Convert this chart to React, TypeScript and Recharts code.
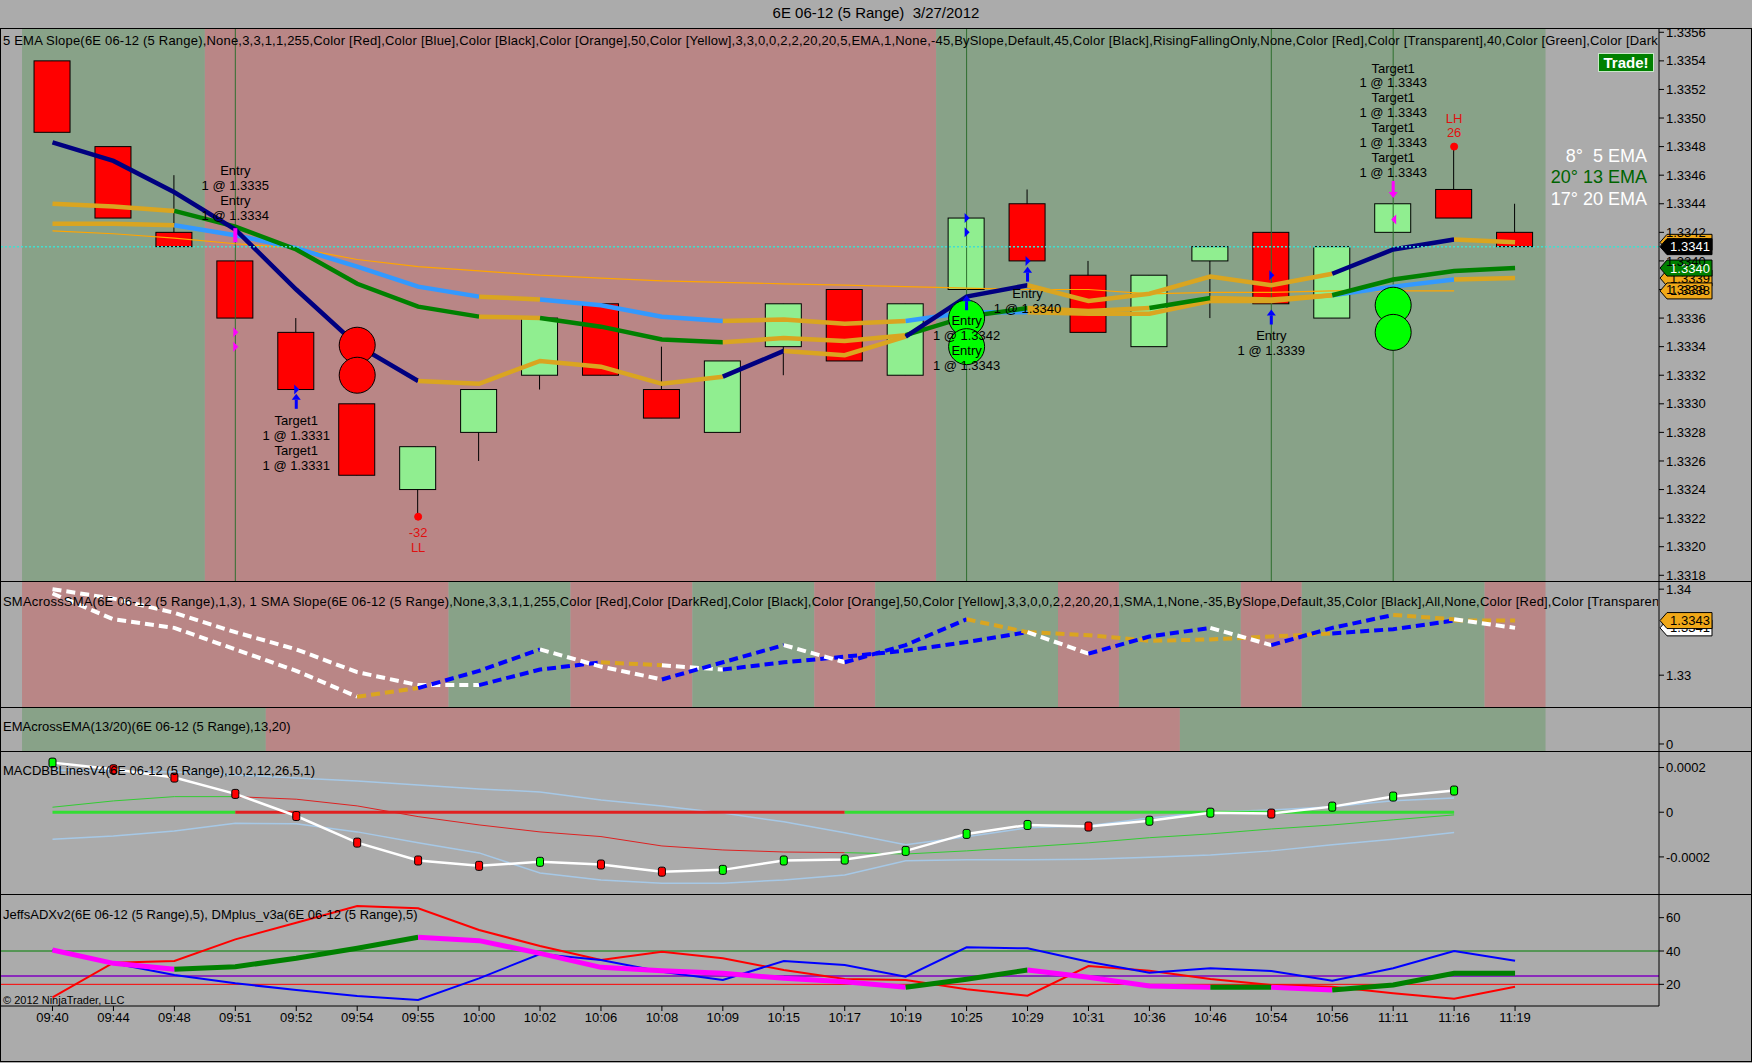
import React from "react";
import {
  Bar,
  ComposedChart,
  Line,
  ReferenceArea,
  ReferenceDot,
  ReferenceLine,
  XAxis,
  YAxis,
} from "recharts";

// ---- data ----
const times = [
  "09:40", "09:44", "09:48", "09:51", "09:52", "09:54", "09:55", "10:00", "10:02",
  "10:06", "10:08", "10:09", "10:15", "10:17", "10:19", "10:25", "10:29", "10:31",
  "10:36", "10:46", "10:54", "10:56", "11:11", "11:16", "11:19",
];

const opens = [1.3354, 1.3348, 1.3342, 1.334, 1.3335, 1.333, 1.3324, 1.3328, 1.3332, 1.3337, 1.3331, 1.3328, 1.3334, 1.3338, 1.3332, 1.3338, 1.3344, 1.3339, 1.3334, 1.334, 1.3342, 1.3336, 1.3342, 1.3345, 1.3342];
const highs = [1.3354, 1.3348, 1.3346, 1.334, 1.3336, 1.333, 1.3327, 1.3331, 1.3336, 1.3337, 1.3334, 1.3333, 1.3337, 1.3338, 1.3337, 1.3343, 1.3345, 1.334, 1.3339, 1.3341, 1.3342, 1.3341, 1.3344, 1.3348, 1.3344];
const lows = [1.3349, 1.3343, 1.3341, 1.3336, 1.3331, 1.3325, 1.3322, 1.3326, 1.3331, 1.3332, 1.3329, 1.3328, 1.3332, 1.3333, 1.3332, 1.3338, 1.334, 1.3335, 1.3334, 1.3336, 1.3337, 1.3336, 1.3342, 1.3343, 1.3341];
const closes = [1.3349, 1.3343, 1.3341, 1.3336, 1.3331, 1.3325, 1.3327, 1.3331, 1.3336, 1.3332, 1.3329, 1.3333, 1.3337, 1.3333, 1.3337, 1.3343, 1.334, 1.3335, 1.3339, 1.3341, 1.3337, 1.3341, 1.3344, 1.3343, 1.3341];

const ema5 = [1.33483, 1.3347, 1.33448, 1.33422, 1.3338, 1.33341, 1.33316, 1.33314, 1.3333, 1.33326, 1.33314, 1.33319, 1.33337, 1.33334, 1.33347, 1.33375, 1.33383, 1.33372, 1.33377, 1.33389, 1.33383, 1.33391, 1.33408, 1.33415, 1.33413];
const ema13 = [1.3344, 1.33438, 1.33435, 1.33424, 1.33408, 1.33384, 1.33368, 1.33361, 1.3336, 1.33354, 1.33345, 1.33343, 1.33346, 1.33344, 1.33348, 1.33361, 1.33367, 1.33365, 1.33367, 1.33374, 1.33373, 1.33376, 1.33387, 1.33393, 1.33395];
const ema20 = [1.33426, 1.33426, 1.33425, 1.33418, 1.33409, 1.33396, 1.33382, 1.33375, 1.33373, 1.33369, 1.33361, 1.33358, 1.33359, 1.33356, 1.33358, 1.33364, 1.33364, 1.33363, 1.33363, 1.33372, 1.33372, 1.33376, 1.33382, 1.33387, 1.33388];
const sma50 = [1.33421, 1.33419, 1.33416, 1.33412, 1.33409, 1.33401, 1.33396, 1.33393, 1.3339, 1.33388, 1.33386, 1.33385, 1.33384, 1.33383, 1.33382, 1.33381, 1.3338, 1.3338, 1.33377, 1.33378, 1.33378, 1.33379, 1.33379, 1.33379, null];

// segment colours, one letter per bar-to-bar segment
const ema5Colors = "NNNNNNYYYYYNYYNNYYYYYNNY";
const ema13Colors = "YYKKKKKYKKKYYYKKYYKYYKKK";
const ema20Colors = "YYLLLLLYLLLYYYLLYYYYYLLY";

const sma1 = closes;
const sma3 = [1.335, 1.33478, 1.33445, 1.334, 1.3336, 1.33307, 1.33277, 1.33277, 1.33313, 1.3333, 1.33323, 1.33313, 1.3333, 1.33343, 1.33357, 1.33377, 1.334, 1.33393, 1.3338, 1.33383, 1.3339, 1.33397, 1.33407, 1.33427, 1.33427];
const sma1Colors = "WWWWWYBBWWBBWBBYWBBWBBYW";
const sma3Colors = "WWWWWWWBBYWBBBBBYYYYYBBY";

const macd = [0.000222, 0.000192, 0.000155, 0.000082, -0.000017, -0.000136, -0.000216, -0.00024, -0.000222, -0.000234, -0.000266, -0.000258, -0.000216, -0.000212, -0.000173, -0.000097, -0.000057, -0.000064, -0.000038, -0.000002, -0.000006, 0.000025, 0.00007, 0.000097, null];
const macdDots = "GRRRRRRRGRRGGGGGGRGGRGGG";
const bbUpper = [0.000189, 0.000185, 0.00018, 0.000167, 0.000153, 0.00014, 0.000122, 0.000104, 0.000091, 0.000055, 0.000028, -0.000003, -0.000043, -0.000092, -0.000146, -0.00011, -0.00007, -0.000061, -0.000026, 0.000001, 0.00001, 0.000024, 0.000051, 0.000064, null];
const bbLower = [-0.000121, -0.000106, -0.000084, -0.000049, -0.000052, -0.000088, -0.000137, -0.000182, -0.000272, -0.000303, -0.000318, -0.000318, -0.000303, -0.000281, -0.000217, -0.000213, -0.000213, -0.00021, -0.000201, -0.000191, -0.000173, -0.000146, -0.000121, -0.000091, null];
const signal = [0.0000224, 0.0000506, 0.0000698, 0.0000698, 0.0000582, 0.0000282, -0.0000197, -0.0000568, -0.0000881, -0.000109, -0.000151, -0.000169, -0.000178, -0.000181, -0.000187, -0.000173, -0.000155, -0.000137, -0.000114, -0.000097, -0.000075, -0.000057, -0.000034, -0.000012, null];
const signalColors = "GGGRRRRRRRRRRGGGGGGGGGG";
const zeroRuns = [
  { from: 0, to: 3, color: "G" },
  { from: 3, to: 13, color: "R" },
  { from: 13, to: 23, color: "G" },
];

const diMinus = [12.2, 33, 34, 47, 57, 67, 65.6, 52.6, 43, 34.6, 39.6, 35.6, 28.6, 23.2, 22.6, 17, 13.2, 31, 28.2, 23.2, 19.6, 18.6, 14.6, 11.4, 18.6];
const diPlus = [40.6, 32.6, 25.6, 20.6, 16.6, 13, 10.6, 23.6, 38.2, 34.6, 27.6, 22.6, 34, 31.6, 24.6, 42.2, 41.6, 33.6, 27, 29.6, 28, 22.2, 29.6, 40, 34.2];
const adx = [40.6, 32.6, 29, 30.6, 35.6, 41.6, 48.2, 46.2, 38.6, 30.2, 28.2, 26.6, 23.6, 21.6, 18.2, 23, 28.6, 24.2, 19, 18.2, 18.2, 16.6, 19.6, 26.6, 26.6];
const adxColors = "MMKKKKMMMMMMMMKKMMMKMKKK";

const mainBands = [
  { from: -0.5, to: 2.5, up: true },
  { from: 2.5, to: 14.5, up: false },
  { from: 14.5, to: 24.5, up: true },
];
const smaBands = [
  { from: -0.5, to: 6.5, up: false },
  { from: 6.5, to: 8.5, up: true },
  { from: 8.5, to: 10.5, up: false },
  { from: 10.5, to: 12.5, up: true },
  { from: 12.5, to: 13.5, up: false },
  { from: 13.5, to: 16.5, up: true },
  { from: 16.5, to: 17.5, up: false },
  { from: 17.5, to: 19.5, up: true },
  { from: 19.5, to: 20.5, up: false },
  { from: 20.5, to: 23.5, up: true },
  { from: 23.5, to: 24.5, up: false },
];
const emaBands = [
  { from: -0.5, to: 3.5, up: true },
  { from: 3.5, to: 18.5, up: false },
  { from: 18.5, to: 24.5, up: true },
];

const tradeBars = [3, 15, 20, 22];
const circles = [
  { i: 5, price: 1.33341, color: "#ff0000" },
  { i: 5, price: 1.3332, color: "#ff0000" },
  { i: 15, price: 1.3336, color: "#00ff00" },
  { i: 15, price: 1.3334, color: "#00ff00" },
  { i: 22, price: 1.33369, color: "#00ff00" },
  { i: 22, price: 1.3335, color: "#00ff00" },
];
const swingDots = [
  { i: 6, price: 1.33221 },
  { i: 23, price: 1.3348 },
];
const notes = [
  { i: 3, price: 1.33463, color: "#000", lines: ["Entry", "1 @ 1.3335", "Entry", "1 @ 1.3334"] },
  { i: 4, price: 1.33288, color: "#000", lines: ["Target1", "1 @ 1.3331", "Target1", "1 @ 1.3331"] },
  { i: 6, price: 1.3321, color: "#e01010", lines: ["-32", "LL"] },
  { i: 15, price: 1.33358, color: "#000", lines: ["Entry", "1 @ 1.3342", "Entry", "1 @ 1.3343"] },
  { i: 16, price: 1.33377, color: "#000", lines: ["Entry", "1 @ 1.3340"] },
  { i: 20, price: 1.33348, color: "#000", lines: ["Entry", "1 @ 1.3339"] },
  {
    i: 22,
    price: 1.33535,
    color: "#000",
    lines: ["Target1", "1 @ 1.3343", "Target1", "1 @ 1.3343", "Target1", "1 @ 1.3343", "Target1", "1 @ 1.3343"],
  },
  { i: 23, price: 1.335, color: "#e01010", lines: ["LH", "26"] },
];
const upArrows = [
  { i: 4, price: 1.33307 },
  { i: 15, price: 1.33376 },
  { i: 16, price: 1.33396 },
  { i: 20, price: 1.33366 },
];
const downArrows = [{ i: 22, price: 1.33444 }];
const fills = [
  { i: 3, price: 1.33418, kind: "bar", color: "#ff00ff" },
  { i: 3, price: 1.3335, kind: "right", color: "#ff00ff" },
  { i: 3, price: 1.3334, kind: "right", color: "#ff00ff" },
  { i: 4, price: 1.3331, kind: "right", color: "#0000ff" },
  { i: 15, price: 1.3343, kind: "right", color: "#0000ff" },
  { i: 15, price: 1.3342, kind: "right", color: "#0000ff" },
  { i: 16, price: 1.334, kind: "right", color: "#0000ff" },
  { i: 20, price: 1.3339, kind: "right", color: "#0000ff" },
  { i: 22, price: 1.33429, kind: "left", color: "#ff00ff" },
];
const mainTags = [
  { price: 1.33413, text: "1.3341", fill: "#f0a818", ink: "#000" },
  { price: 1.33388, text: "1.3339", fill: "#f0a818", ink: "#000" },
  { price: 1.33379, text: "1.3338", fill: "#f0a818", ink: "#000" },
  { price: 1.33395, text: "1.3340", fill: "#008000", ink: "#fff" },
  { price: 1.3341, text: "1.3341", fill: "#000", ink: "#fff" },
];
const smaTags = [
  { price: 1.3341, text: "1.3341", fill: "#fff", ink: "#000" },
  { price: 1.33427, text: "1.3343", fill: "#f0a818", ink: "#000" },
];

const priceTicks = [1.3318, 1.332, 1.3322, 1.3324, 1.3326, 1.3328, 1.333, 1.3332, 1.3334, 1.3336, 1.3338, 1.334, 1.3342, 1.3344, 1.3346, 1.3348, 1.335, 1.3352, 1.3354, 1.3356];
const smaTicks = [1.333, 1.335];
const smaTickText = ["1.33", "1.34"];
const macdTicks = [-0.0002, 0, 0.0002];
const adxTicks = [20, 40, 60];

// ---- layout ----
const W = 1752;
const PLOT_W = 1659;
const AXIS_W = W - PLOT_W;
const xDomain = [-0.8615, 26.362];
const FONT = "'Liberation Sans', Arial, sans-serif";
const UP_BG = "#88a288";
const DOWN_BG = "#b98686";

const palette: Record<string, string> = {
  N: "#000080",
  Y: "#daa520",
  K: "#008000",
  L: "#3399ff",
  W: "#ffffff",
  B: "#0000ff",
  M: "#ff00ff",
  G: "#33cc33",
  R: "#dd2222",
};

type Row = Record<string, any>;
const rows: Row[] = times.map((t, i) => ({
  i,
  t,
  open: opens[i],
  high: highs[i],
  low: lows[i],
  close: closes[i],
  sma50: sma50[i],
  macd: macd[i],
  bbUpper: bbUpper[i],
  bbLower: bbLower[i],
  diMinus: diMinus[i],
  diPlus: diPlus[i],
}));

function runs(colors: string) {
  const out: { color: string; from: number; to: number }[] = [];
  for (let s = 0; s < colors.length; s++) {
    const last = out[out.length - 1];
    if (last && last.color === colors[s]) last.to = s + 1;
    else out.push({ color: colors[s], from: s, to: s + 1 });
  }
  return out;
}

function segmented(name: string, values: (number | null)[], colors: string) {
  return runs(colors).map((r, k) => {
    const key = `${name}_${k}`;
    rows.forEach((row, i) => {
      row[key] = i >= r.from && i <= r.to ? values[i] : null;
    });
    return { key, color: palette[r.color] };
  });
}

const ema5Segs = segmented("ema5", ema5, ema5Colors);
const ema13Segs = segmented("ema13", ema13, ema13Colors);
const ema20Segs = segmented("ema20", ema20, ema20Colors);
const sma1Segs = segmented("sma1", sma1, sma1Colors);
const sma3Segs = segmented("sma3", sma3, sma3Colors);
const signalSegs = segmented("signal", signal, signalColors);
const adxSegs = segmented("adx", adx, adxColors);

// ---- shapes ----
function Candle(props: any) {
  const { x, y, width, height, payload } = props;
  const top = Math.min(y, y + height);
  const h = Math.abs(height);
  const { open, high, low, close } = payload;
  const toY = (p: number) => top + ((high - p) / (high - low)) * h;
  const cx = x + width / 2;
  const bTop = toY(Math.max(open, close));
  const bBot = toY(Math.min(open, close));
  return (
    <g>
      <line x1={cx} x2={cx} y1={top} y2={top + h} stroke="#000" strokeWidth={1} />
      <rect
        x={x}
        y={bTop}
        width={width}
        height={Math.max(bBot - bTop, 1)}
        fill={close > open ? "#90ee90" : "#ff0000"}
        stroke="#000"
        strokeWidth={1}
      />
    </g>
  );
}

const noteShape = (lines: string[], color: string) => (p: any) => (
  <text x={p.cx} y={p.cy} textAnchor="middle" fontSize={13} fill={color} fontFamily={FONT}>
    {lines.map((s, k) => (
      <tspan key={k} x={p.cx} dy={k === 0 ? 4.5 : 14.9}>
        {s}
      </tspan>
    ))}
  </text>
);

const upArrow = (p: any) => (
  <g fill="#0000ff">
    <polygon points={`${p.cx},${p.cy} ${p.cx - 4.5},${p.cy + 6} ${p.cx + 4.5},${p.cy + 6}`} />
    <rect x={p.cx - 1.5} y={p.cy + 6} width={3} height={9} />
  </g>
);

const downArrow = (p: any) => (
  <g fill="#ff00ff">
    <polygon points={`${p.cx},${p.cy} ${p.cx - 4.5},${p.cy - 6} ${p.cx + 4.5},${p.cy - 6}`} />
    <rect x={p.cx - 1.5} y={p.cy - 17} width={3} height={11} />
  </g>
);

const fillShape = (kind: string, color: string) => (p: any) => {
  if (kind === "bar") return <rect x={p.cx - 2} y={p.cy - 7} width={4} height={14} fill={color} />;
  if (kind === "left")
    return <polygon points={`${p.cx - 2},${p.cy} ${p.cx + 3},${p.cy - 5} ${p.cx + 3},${p.cy + 5}`} fill={color} />;
  return <polygon points={`${p.cx + 3},${p.cy} ${p.cx - 2},${p.cy - 5} ${p.cx - 2},${p.cy + 5}`} fill={color} />;
};

const tagShape = (text: string, fill: string, ink: string) => (p: any) => (
  <g>
    <polygon
      points={`${p.cx + 1},${p.cy} ${p.cx + 8},${p.cy - 8} ${p.cx + 53},${p.cy - 8} ${p.cx + 53},${p.cy + 8} ${p.cx + 8},${p.cy + 8}`}
      fill={fill}
      stroke="#000"
      strokeWidth={1}
    />
    <text x={p.cx + 31} y={p.cy + 4.5} textAnchor="middle" fontSize={13} fill={ink} fontFamily={FONT}>
      {text}
    </text>
  </g>
);

const circleShape = (color: string) => (p: any) => (
  <circle cx={p.cx} cy={p.cy} r={18} fill={color} stroke="#000" strokeWidth={1} />
);

const macdDot = (p: any) => {
  if (p.cy == null || p.value == null) return <g key={p.index} />;
  return (
    <rect
      key={p.index}
      x={p.cx - 3.5}
      y={p.cy - 4.5}
      width={7}
      height={9}
      rx={2}
      fill={macdDots[p.index] === "G" ? "#00ff00" : "#ff0000"}
      stroke="#000"
      strokeWidth={1}
    />
  );
};

// ---- shared axis bits ----
const tickStyle = { fill: "#000", fontSize: 13, fontFamily: FONT };

function rightAxis(domain: number[], ticks: number[], fmt: (v: number, i: number) => string) {
  return (
    <YAxis
      orientation="right"
      width={AXIS_W}
      domain={domain}
      ticks={ticks}
      allowDataOverflow
      tickFormatter={fmt}
      tick={tickStyle}
      tickSize={5}
      axisLine={{ stroke: "#000" }}
      tickLine={{ stroke: "#000" }}
      interval={0}
    />
  );
}

const hiddenX = <XAxis dataKey="i" type="number" domain={xDomain} allowDataOverflow hide />;

function bands(list: { from: number; to: number; up: boolean }[]) {
  return list.map((b, k) => (
    <ReferenceArea
      key={`band${k}`}
      x1={b.from}
      x2={b.to}
      fill={b.up ? UP_BG : DOWN_BG}
      fillOpacity={1}
      stroke="none"
      ifOverflow="hidden"
    />
  ));
}

const margin = { top: 0, right: 0, bottom: 0, left: 0 };

function PanelLabel({ top, spacing = 0, children }: { top: number; spacing?: number; children: React.ReactNode }) {
  return (
    <div
      style={{
        position: "absolute",
        left: 3,
        top: top - 8,
        width: PLOT_W - 4,
        height: 16,
        lineHeight: "16px",
        fontSize: 13,
        letterSpacing: spacing,
        whiteSpace: "nowrap",
        overflow: "hidden",
        color: "#000",
      }}
    >
      {children}
    </div>
  );
}

function HLine({ top }: { top: number }) {
  return <div style={{ position: "absolute", left: 0, top, width: W, height: 1, background: "#000" }} />;
}

export default function App() {
  return (
    <div
      style={{
        position: "relative",
        width: W,
        height: 1063,
        background: "#ababab",
        overflow: "hidden",
        fontFamily: FONT,
      }}
    >
      <style>{"body{margin:0}"}</style>
      <div style={{ position: "absolute", top: 4, left: 0, width: W, textAlign: "center", fontSize: 15 }}>
        6E 06-12 (5 Range)&nbsp;&nbsp;3/27/2012
      </div>

      {/* price panel */}
      <div style={{ position: "absolute", top: 28, left: 0 }}>
        <ComposedChart width={W} height={553} data={rows} margin={margin}>
          {hiddenX}
          {rightAxis([1.33176, 1.33563], priceTicks, (v) => v.toFixed(4))}
          {bands(mainBands)}
          <Bar dataKey={(r: Row) => [r.low, r.high]} barSize={36} shape={Candle} isAnimationActive={false} />
          {tradeBars.map((i) => (
            <ReferenceLine key={`tl${i}`} x={i} stroke="#2f6f2f" strokeWidth={1} />
          ))}
          <Line dataKey="sma50" stroke="#ffa500" strokeWidth={1.2} dot={false} isAnimationActive={false} />
          {[...ema20Segs, ...ema13Segs, ...ema5Segs].map((s) => (
            <Line key={s.key} dataKey={s.key} stroke={s.color} strokeWidth={4.5} dot={false} isAnimationActive={false} />
          ))}
          <ReferenceLine y={1.3341} stroke="#40e0d0" strokeWidth={1.5} strokeDasharray="2 2" />
          {circles.map((c, k) => (
            <ReferenceDot key={`c${k}`} x={c.i} y={c.price} r={18} shape={circleShape(c.color)} />
          ))}
          {swingDots.map((d, k) => (
            <ReferenceDot key={`s${k}`} x={d.i} y={d.price} r={3.5} fill="#ff0000" stroke="#ff0000" />
          ))}
          {fills.map((f, k) => (
            <ReferenceDot key={`f${k}`} x={f.i} y={f.price} r={3} shape={fillShape(f.kind, f.color)} />
          ))}
          {upArrows.map((a, k) => (
            <ReferenceDot key={`u${k}`} x={a.i} y={a.price} r={3} shape={upArrow} />
          ))}
          {downArrows.map((a, k) => (
            <ReferenceDot key={`d${k}`} x={a.i} y={a.price} r={3} shape={downArrow} />
          ))}
          {notes.map((n, k) => (
            <ReferenceDot key={`n${k}`} x={n.i} y={n.price} r={1} shape={noteShape(n.lines, n.color)} ifOverflow="visible" />
          ))}
          {mainTags.map((t, k) => (
            <ReferenceDot
              key={`t${k}`}
              x={xDomain[1]}
              y={t.price}
              r={1}
              shape={tagShape(t.text, t.fill, t.ink)}
              ifOverflow="visible"
            />
          ))}
        </ComposedChart>
      </div>

      {/* SMA cross panel */}
      <div style={{ position: "absolute", top: 581, left: 0 }}>
        <ComposedChart width={W} height={126} data={rows} margin={margin}>
          {hiddenX}
          {rightAxis([1.33226, 1.33519], smaTicks, (_v, i) => smaTickText[i])}
          {bands(smaBands)}
          {[...sma3Segs, ...sma1Segs].map((s) => (
            <Line
              key={s.key}
              dataKey={s.key}
              stroke={s.color}
              strokeWidth={4}
              strokeDasharray="9 5"
              dot={false}
              isAnimationActive={false}
            />
          ))}
          {smaTags.map((t, k) => (
            <ReferenceDot
              key={`st${k}`}
              x={xDomain[1]}
              y={t.price}
              r={1}
              shape={tagShape(t.text, t.fill, t.ink)}
              ifOverflow="visible"
            />
          ))}
        </ComposedChart>
      </div>

      {/* EMA cross panel */}
      <div style={{ position: "absolute", top: 707, left: 0 }}>
        <ComposedChart width={W} height={44} data={rows} margin={margin}>
          {hiddenX}
          {rightAxis([-0.19, 1], [0], () => "0")}
          {bands(emaBands)}
        </ComposedChart>
      </div>

      {/* MACD panel */}
      <div style={{ position: "absolute", top: 751, left: 0 }}>
        <ComposedChart width={W} height={143} data={rows} margin={margin}>
          {hiddenX}
          {rightAxis([-0.000366, 0.000274], macdTicks, (v) => (v === 0 ? "0" : v.toFixed(4)))}
          <Line dataKey="bbUpper" stroke="#a6c8e6" strokeWidth={1.5} dot={false} isAnimationActive={false} />
          <Line dataKey="bbLower" stroke="#a6c8e6" strokeWidth={1.5} dot={false} isAnimationActive={false} />
          {signalSegs.map((s) => (
            <Line key={s.key} dataKey={s.key} stroke={s.color} strokeWidth={1} dot={false} isAnimationActive={false} />
          ))}
          {zeroRuns.map((z, k) => (
            <ReferenceLine
              key={`z${k}`}
              segment={[
                { x: z.from, y: 0 },
                { x: z.to, y: 0 },
              ]}
              stroke={z.color === "G" ? "#33dd33" : "#e02020"}
              strokeWidth={3}
            />
          ))}
          <Line dataKey="macd" stroke="#ffffff" strokeWidth={2.5} dot={macdDot} isAnimationActive={false} />
        </ComposedChart>
      </div>

      {/* ADX panel */}
      <div style={{ position: "absolute", top: 894, left: 0 }}>
        <ComposedChart width={W} height={169} data={rows} margin={margin}>
          <XAxis
            dataKey="i"
            type="number"
            domain={xDomain}
            allowDataOverflow
            ticks={times.map((_, i) => i)}
            interval={0}
            tickFormatter={(i) => times[i] ?? ""}
            tick={tickStyle}
            tickSize={5}
            height={57}
            axisLine={{ stroke: "#000" }}
            tickLine={{ stroke: "#000" }}
          />
          {rightAxis([7, 74.2], adxTicks, (v) => String(v))}
          <ReferenceLine y={40} stroke="#008000" strokeWidth={1} />
          <ReferenceLine y={25} stroke="#7f00bf" strokeWidth={1.5} />
          <ReferenceLine y={20} stroke="#ff0000" strokeWidth={1} />
          <Line dataKey="diMinus" stroke="#ff0000" strokeWidth={2} dot={false} isAnimationActive={false} />
          <Line dataKey="diPlus" stroke="#0000ff" strokeWidth={2} dot={false} isAnimationActive={false} />
          {adxSegs.map((s) => (
            <Line key={s.key} dataKey={s.key} stroke={s.color} strokeWidth={5} dot={false} isAnimationActive={false} />
          ))}
        </ComposedChart>
      </div>

      {/* frame and separators */}
      <HLine top={28} />
      <HLine top={581} />
      <HLine top={707} />
      <HLine top={751} />
      <HLine top={894} />
      <div style={{ position: "absolute", left: 0, top: 28, width: 1, height: 1034, background: "#000" }} />
      <div style={{ position: "absolute", left: W - 1, top: 28, width: 1, height: 1034, background: "#000" }} />
      <div style={{ position: "absolute", left: 0, top: 1061, width: W, height: 1, background: "#000" }} />

      <PanelLabel top={41} spacing={0.2}>
        5 EMA Slope(6E 06-12 (5 Range),None,3,3,1,1,255,Color [Red],Color [Blue],Color [Black],Color [Orange],50,Color
        [Yellow],3,3,0,0,2,2,20,20,5,EMA,1,None,-45,BySlope,Default,45,Color [Black],RisingFallingOnly,None,Color
        [Red],Color [Transparent],40,Color [Green],Color [DarkGreen],Color [Black]
      </PanelLabel>
      <PanelLabel top={602} spacing={0.2}>
        SMAcrossSMA(6E 06-12 (5 Range),1,3), 1 SMA Slope(6E 06-12 (5 Range),None,3,3,1,1,255,Color [Red],Color
        [DarkRed],Color [Black],Color [Orange],50,Color [Yellow],3,3,0,0,2,2,20,20,1,SMA,1,None,-35,BySlope,Default,35,Color
        [Black],All,None,Color [Red],Color [Transparent],40
      </PanelLabel>
      <PanelLabel top={727}>EMAcrossEMA(13/20)(6E 06-12 (5 Range),13,20)</PanelLabel>
      <PanelLabel top={771}>MACDBBLinesV4(6E 06-12 (5 Range),10,2,12,26,5,1)</PanelLabel>
      <PanelLabel top={915}>JeffsADXv2(6E 06-12 (5 Range),5), DMplus_v3a(6E 06-12 (5 Range),5)</PanelLabel>
      <div style={{ position: "absolute", left: 3, top: 994, fontSize: 11, color: "#000" }}>© 2012 NinjaTrader, LLC</div>

      <div
        style={{
          position: "absolute",
          left: 1598,
          top: 53,
          width: 54,
          height: 17,
          background: "#008000",
          border: "1px solid #c8e8c8",
          color: "#fff",
          fontWeight: "bold",
          fontSize: 15,
          lineHeight: "17px",
          textAlign: "center",
        }}
      >
        Trade!
      </div>
      <div
        style={{
          position: "absolute",
          right: W - 1647,
          top: 146,
          fontSize: 18,
          lineHeight: "21.3px",
          textAlign: "right",
          whiteSpace: "nowrap",
        }}
      >
        <div style={{ color: "#fff" }}>8°&nbsp;&nbsp;5 EMA</div>
        <div style={{ color: "#006400" }}>20° 13 EMA</div>
        <div style={{ color: "#fff" }}>17° 20 EMA</div>
      </div>
    </div>
  );
}
